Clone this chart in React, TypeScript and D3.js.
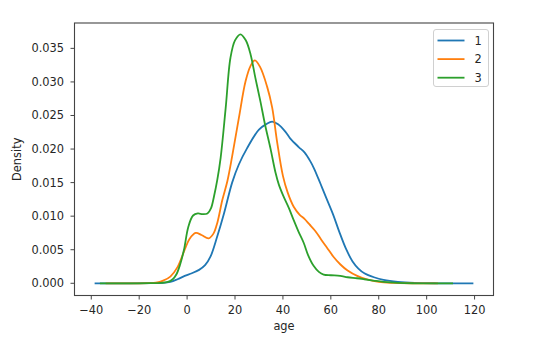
import React from 'react';
import * as d3 from 'd3';

// KDE of age per class
const ages1 = [-38.6, -25, -15, -10, -7, -4, -1, 2, 5, 7.5, 9.8, 12.6, 15.4, 18.8, 21.6, 25, 30, 33, 35.5, 38, 41, 43, 46.6, 49, 51.4, 53, 55.6, 58, 61, 63.5, 66.5, 69, 71.5, 74, 78, 82, 88, 95, 105, 119.5];
const density1 = [0, 0, 0.00001, 0.00005, 0.0002, 0.0006, 0.0011, 0.0015, 0.002, 0.0027, 0.004, 0.007, 0.0104, 0.015, 0.0177, 0.0201, 0.0229, 0.0237, 0.0241, 0.0237, 0.0226, 0.0216, 0.0203, 0.0195, 0.0182, 0.0171, 0.0149, 0.0128, 0.0102, 0.0077, 0.005, 0.0033, 0.0022, 0.0015, 0.0009, 0.0005, 0.0002, 0.00005, 0, 0];

const ages2 = [-34, -25, -16, -13, -10, -7, -4, -1, 1, 3.6, 6, 9, 11, 12.6, 14.7, 16.8, 18.8, 21.6, 24.4, 26.5, 28.3, 30.5, 33.4, 35.5, 37.6, 40, 42, 44.5, 47, 49, 51, 53.5, 56, 58.4, 61, 64, 67, 71, 75, 80, 86, 95, 104.7];
const density2 = [0, 0, 0.00002, 0.0001, 0.0004, 0.001, 0.0024, 0.005, 0.0066, 0.0075, 0.0072, 0.0067, 0.0074, 0.009, 0.0124, 0.0152, 0.0189, 0.0246, 0.0301, 0.0324, 0.0332, 0.0322, 0.0293, 0.0262, 0.021, 0.016, 0.0135, 0.0114, 0.0102, 0.0096, 0.0088, 0.0078, 0.0065, 0.0053, 0.004, 0.0028, 0.0019, 0.0011, 0.0006, 0.0002, 0.00005, 0, 0];

const ages3 = [-36.4, -25, -15, -11, -8, -6, -4.5, -3, -1.3, 0.5, 2.5, 4.5, 6.5, 8.5, 10, 11.2, 12.6, 14, 16.1, 18.1, 20, 22.3, 24.5, 26.5, 28.5, 30.6, 32.5, 34.8, 36.9, 38.3, 40.3, 42.5, 44.5, 46.5, 48.7, 50.5, 52.8, 55, 57, 60, 63.9, 67, 70.9, 74, 77.8, 82, 88, 95, 111];
const density3 = [0, 0, 0.00001, 0.00006, 0.0002, 0.0006, 0.0013, 0.0027, 0.005, 0.0084, 0.0101, 0.0104, 0.0103, 0.0104, 0.0112, 0.0129, 0.0154, 0.0187, 0.0261, 0.0336, 0.0362, 0.0371, 0.0362, 0.0341, 0.0306, 0.0271, 0.0237, 0.0201, 0.0165, 0.0147, 0.0129, 0.0112, 0.0094, 0.0077, 0.006, 0.0042, 0.0026, 0.0017, 0.0013, 0.0012, 0.0011, 0.0009, 0.00075, 0.0006, 0.0004, 0.0002, 0.00005, 0, 0];

const seriesNames = ['1', '2', '3'];
const seriesColors = ['#1f77b4', '#ff7f0e', '#2ca02c'];
const xTicks = [-40, -20, 0, 20, 40, 60, 80, 100, 120];
const yTicks = [0, 0.005, 0.01, 0.015, 0.02, 0.025, 0.03, 0.035];

const margin = { left: 74.5, right: 493.5, top: 23, bottom: 295.5 };
const font = 'DejaVu Sans, sans-serif';
const fontSize = 11.4;

export default function App() {
  const x = d3.scaleLinear().domain([-47, 127.9]).range([margin.left, margin.right]);
  const y = d3.scaleLinear().domain([-0.00182, 0.03878]).range([margin.bottom, margin.top]);

  const line = d3.line<[number, number]>()
    .x(d => x(d[0]))
    .y(d => y(Math.max(0, d[1])))
    .curve(d3.curveCatmullRom.alpha(0.5));

  const series = [
    d3.zip(ages1, density1) as [number, number][],
    d3.zip(ages2, density2) as [number, number][],
    d3.zip(ages3, density3) as [number, number][],
  ];

  const axisColor = '#444';
  const legendX = 433.5;
  const legendY = 29.5;

  return (
    <svg width={535} height={352} style={{ position: 'fixed', left: 0, top: 0, background: '#fff' }}
      fontFamily={font} fontSize={fontSize}>
      <rect x={0} y={0} width={535} height={352} fill="#fff" />

      {series.map((pts, i) => (
        <path key={i} d={line(pts) || ''} fill="none" stroke={seriesColors[i]} strokeWidth={1.8}
          strokeLinejoin="round" />
      ))}

      {/* frame */}
      <rect x={margin.left} y={margin.top} width={margin.right - margin.left} height={margin.bottom - margin.top}
        fill="none" stroke={axisColor} strokeWidth={1.1} />

      {/* x axis */}
      {xTicks.map(t => (
        <g key={t} transform={`translate(${x(t)},${margin.bottom})`}>
          <line y1={0} y2={4} stroke={axisColor} strokeWidth={1} />
          <text y={18.5} textAnchor="middle" fill="#262626">{t < 0 ? `\u2212${-t}` : t}</text>
        </g>
      ))}
      <text x={(margin.left + margin.right) / 2} y={329.5} textAnchor="middle" fill="#262626">age</text>

      {/* y axis */}
      {yTicks.map(t => (
        <g key={t} transform={`translate(${margin.left},${y(t)})`}>
          <line x1={-4} x2={0} stroke={axisColor} strokeWidth={1} />
          <text x={-10.5} dy="0.35em" textAnchor="end" fill="#262626">{d3.format('.3f')(t)}</text>
        </g>
      ))}
      <text transform={`translate(21,${(margin.top + margin.bottom) / 2}) rotate(-90)`} textAnchor="middle"
        fill="#262626">Density</text>

      {/* legend */}
      <rect x={legendX} y={legendY} width={55} height={57} rx={2.5} fill="#fff" fillOpacity={0.8}
        stroke="#d0d0d0" strokeWidth={1} />
      {seriesNames.map((name, i) => (
        <g key={name} transform={`translate(${legendX},${legendY + 11 + i * 18.6})`}>
          <line x1={4} x2={31} stroke={seriesColors[i]} strokeWidth={1.8} />
          <text x={41} dy="0.36em" fill="#262626">{name}</text>
        </g>
      ))}
    </svg>
  );
}
